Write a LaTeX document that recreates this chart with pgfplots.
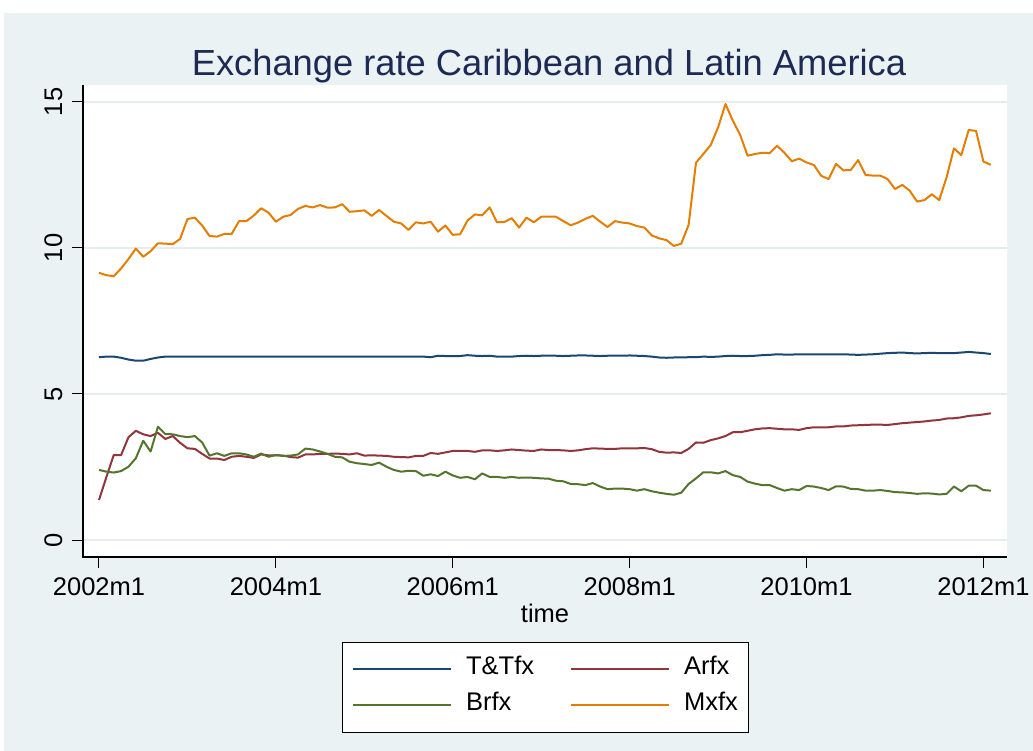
\documentclass[border=0pt]{standalone}
\usepackage{pgfplots}
\pgfplotsset{compat=1.18}
\usepackage{pgfplotstable}
\usepackage{fontspec}
\setmainfont{Liberation Sans}
\definecolor{bgc}{HTML}{EAF2F3}
\definecolor{gridc}{HTML}{E5EDEF}
\definecolor{titlec}{HTML}{1C2A54}
\definecolor{stnavy}{HTML}{1A476F}
\definecolor{stmaroon}{HTML}{90353B}
\definecolor{stgreen}{HTML}{55752F}
\definecolor{storange}{HTML}{E37E00}

\pgfplotstableread{
m tt ar br mx
0 6.26 1.37 2.40 9.15
1 6.28 2.15 2.34 9.07
2 6.28 2.91 2.31 9.03
3 6.24 2.91 2.36 9.30
4 6.18 3.52 2.51 9.62
5 6.14 3.74 2.80 9.98
6 6.14 3.62 3.40 9.70
7 6.20 3.56 3.03 9.89
8 6.25 3.67 3.88 10.16
9 6.28 3.46 3.63 10.15
10 6.28 3.56 3.62 10.13
11 6.28 3.33 3.56 10.31
12 6.28 3.14 3.52 10.99
13 6.28 3.12 3.56 11.04
14 6.28 2.95 3.34 10.77
15 6.28 2.79 2.89 10.41
16 6.28 2.79 2.97 10.39
17 6.28 2.74 2.88 10.48
18 6.28 2.85 2.97 10.48
19 6.28 2.88 2.97 10.92
20 6.28 2.85 2.93 10.92
21 6.28 2.81 2.85 11.11
22 6.28 2.93 2.96 11.36
23 6.28 2.90 2.85 11.21
24 6.28 2.90 2.91 10.90
25 6.28 2.89 2.88 11.07
26 6.28 2.84 2.89 11.13
27 6.28 2.82 2.93 11.34
28 6.28 2.93 3.13 11.44
29 6.28 2.93 3.10 11.39
30 6.28 2.95 3.03 11.47
31 6.28 2.95 2.95 11.38
32 6.28 2.96 2.85 11.39
33 6.28 2.95 2.83 11.50
34 6.28 2.93 2.68 11.24
35 6.28 2.97 2.63 11.26
36 6.28 2.89 2.60 11.29
37 6.28 2.90 2.57 11.10
38 6.28 2.89 2.65 11.30
39 6.28 2.88 2.51 11.10
40 6.28 2.85 2.40 10.90
41 6.28 2.84 2.34 10.84
42 6.28 2.83 2.37 10.62
43 6.28 2.88 2.36 10.88
44 6.28 2.88 2.20 10.84
45 6.26 2.98 2.25 10.90
46 6.31 2.95 2.19 10.56
47 6.30 3.00 2.34 10.77
48 6.30 3.05 2.21 10.45
49 6.30 3.05 2.13 10.47
50 6.33 3.05 2.16 10.94
51 6.31 3.02 2.08 11.15
52 6.30 3.07 2.28 11.12
53 6.31 3.07 2.16 11.39
54 6.28 3.05 2.16 10.88
55 6.28 3.07 2.13 10.89
56 6.28 3.10 2.16 11.02
57 6.30 3.08 2.13 10.70
58 6.31 3.06 2.14 11.04
59 6.30 3.05 2.13 10.88
60 6.31 3.10 2.11 11.07
61 6.31 3.08 2.10 11.07
62 6.31 3.08 2.03 11.07
63 6.30 3.07 2.01 10.92
64 6.31 3.05 1.92 10.78
65 6.32 3.07 1.91 10.87
66 6.32 3.11 1.88 11.00
67 6.31 3.14 1.95 11.10
68 6.30 3.13 1.83 10.90
69 6.31 3.12 1.74 10.72
70 6.31 3.12 1.76 10.92
71 6.31 3.14 1.76 10.87
72 6.32 3.14 1.74 10.84
73 6.31 3.14 1.69 10.75
74 6.30 3.15 1.74 10.70
75 6.28 3.11 1.67 10.43
76 6.25 3.02 1.62 10.33
77 6.24 2.99 1.58 10.27
78 6.25 3.00 1.55 10.07
79 6.25 2.98 1.62 10.15
80 6.26 3.12 1.92 10.79
81 6.26 3.34 2.11 12.92
82 6.28 3.33 2.32 13.22
83 6.27 3.42 2.32 13.53
84 6.28 3.48 2.28 14.13
85 6.30 3.56 2.36 14.93
86 6.31 3.69 2.22 14.36
87 6.30 3.69 2.16 13.87
88 6.30 3.74 2.00 13.16
89 6.31 3.79 1.93 13.22
90 6.33 3.82 1.88 13.26
91 6.34 3.83 1.88 13.25
92 6.36 3.81 1.78 13.50
93 6.35 3.79 1.69 13.26
94 6.35 3.79 1.74 12.97
95 6.36 3.77 1.71 13.06
96 6.36 3.83 1.85 12.93
97 6.36 3.86 1.83 12.84
98 6.36 3.86 1.78 12.47
99 6.36 3.86 1.71 12.36
100 6.36 3.89 1.84 12.88
101 6.36 3.89 1.83 12.66
102 6.35 3.92 1.75 12.67
103 6.34 3.93 1.74 13.01
104 6.35 3.94 1.69 12.50
105 6.36 3.95 1.69 12.48
106 6.38 3.95 1.71 12.48
107 6.40 3.94 1.68 12.36
108 6.41 3.97 1.64 12.02
109 6.42 4.00 1.63 12.16
110 6.40 4.02 1.61 11.96
111 6.39 4.04 1.58 11.59
112 6.40 4.06 1.60 11.64
113 6.41 4.09 1.59 11.84
114 6.40 4.11 1.56 11.64
115 6.40 4.16 1.58 12.42
116 6.40 4.17 1.83 13.41
117 6.42 4.20 1.67 13.18
118 6.44 4.25 1.86 14.04
119 6.42 4.27 1.86 14.01
120 6.40 4.30 1.71 12.96
121 6.37 4.34 1.69 12.85
}\datatable

\begin{document}
\begin{tikzpicture}
\fill[white] (0pt,0pt) rectangle (1033pt,751pt);
\fill[bgc] (4pt,0pt) rectangle (1033pt,738pt);
\begin{axis}[
  at={(83pt,194pt)}, anchor=south west,
  scale only axis, width=924pt, height=472pt,
  xmin=-2.17, xmax=123.2, ymin=-0.582, ymax=15.582,
  axis background/.style={fill=white},
  axis line style={draw=none},
  extra description/.code={
    \draw[black, line width=1.2pt] (0,1) -- (0,0) -- (1,0);
  },
  xtick pos=bottom, ytick pos=left,
  xtick={0,24,48,72,96,120},
  xticklabels={2002m1,2004m1,2006m1,2008m1,2010m1,2012m1},
  ytick={0,5,10,15},
  minor tick num=0,
  tick align=outside,
  major tick length=11pt,
  tick style={black, line width=1pt},
  ymajorgrids,
  major grid style={gridc, line width=2pt},
  ticklabel style={font=\fontsize{25.5}{25.5}\selectfont, inner sep=0pt},
  /pgf/number format/assume math mode=true,
  xticklabel style={anchor=base},
  xticklabel shift=27.7pt,
  yticklabel style={rotate=90, anchor=base},
  yticklabel shift=10pt,
  xlabel={time},
  xlabel style={at={(axis description cs:0.5,-0.1383)}, anchor=base, inner sep=0pt, font=\fontsize{25.5}{25.5}\selectfont},
  title={Exchange rate Caribbean and Latin America},
  title style={at={(axis description cs:0.5043,1)}, anchor=base, inner sep=0pt, yshift=3pt, font=\fontsize{36.3}{36.3}\selectfont, text=titlec},
  legend columns=2,
  legend cell align=left,
  legend image code/.code={\draw[#1] (0pt,0pt) -- (98pt,0pt);},
  legend style={at={(axis description cs:0.5,-0.1794)}, anchor=north,
    draw=black, line width=0.8pt, fill=white,
    font=\fontsize{25.5}{25.5}\selectfont,
    inner xsep=10pt, inner ysep=13pt,
    nodes={inner sep=0pt, text height=19pt, text depth=9pt},
    row sep=8pt,
    /tikz/every odd column/.append style={column sep=14pt},
    /tikz/every even column/.append style={column sep=36pt}},
  every axis plot/.append style={line width=2pt, line join=round},
]
\addplot[stnavy, no marks] table[x=m, y=tt] {\datatable};
\addlegendentry{T\&Tfx}
\addplot[stmaroon, no marks] table[x=m, y=ar] {\datatable};
\addlegendentry{Arfx}
\addplot[stgreen, no marks] table[x=m, y=br] {\datatable};
\addlegendentry{Brfx}
\addplot[storange, no marks] table[x=m, y=mx] {\datatable};
\addlegendentry{Mxfx}
\end{axis}
\end{tikzpicture}
\end{document}
